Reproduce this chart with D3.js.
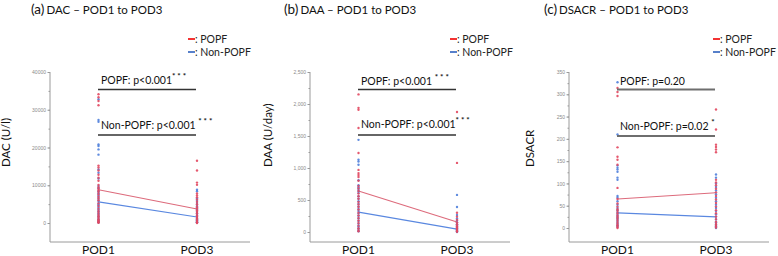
<!DOCTYPE html>
<html>
<head>
<meta charset="utf-8">
<script src="https://cdn.jsdelivr.net/npm/d3@7"></script>
<style>
  body { margin: 0; background: #fff; }
  svg { font-family: Lato, "Liberation Sans", sans-serif; }
  .tick text { fill: #8a8a8a; font-size: 5px; }
  .axis path, .axis line { stroke: #9a9a9a; }
</style>
</head>
<body>
<svg id="chart" width="778" height="256"></svg>
<script>
// categories
const days = ['POD1', 'POD3'];

// (a) DAC, U/l
const dacPopfPod1 = [34100, 33300, 32300, 31200, 15200, 14700, 13900, 12800, 12000, 11200, 10100, 9500, 9000, 8600, 8200, 7600, 7000, 6500, 6000, 5200, 4500, 3800, 3200, 2700, 2200, 1800, 1400, 1000, 700, 400, 200, 50];
const dacNonPod1 = [32800, 27300, 26800, 20800, 20400, 19500, 18100, 14200, 13300, 11800, 9800, 9200, 8400, 7900, 7300, 6700, 6100, 5600, 5000, 4600, 4100, 3600, 3100, 2600, 2100, 1700, 1300, 900, 600, 300, 100];
const dacPopfPod3 = [16500, 13900, 10700, 10100, 7800, 7300, 6800, 6200, 5600, 5000, 4400, 3900, 3400, 2900, 2500, 2000, 1600, 1200, 800, 500, 200, 0];
const dacNonPod3 = [8800, 8400, 6500, 5900, 5300, 4800, 4200, 3600, 3000, 2500, 2100, 1700, 1300, 1000, 700, 400, 200, 100];
const dacMeanPopf = [8800, 3700];
const dacMeanNon = [5600, 1600];
const dacTicks = [0, 10000, 20000, 30000, 40000];

// (b) DAA, U/day
const daaPopfPod1 = [2150, 1940, 1910, 1625, 1235, 970, 920, 890, 860, 800, 720, 680, 640, 600, 560, 520, 470, 430, 390, 350, 300, 260, 220, 180, 140, 100, 60, 30, 10];
const daaNonPod1 = [1440, 1130, 1100, 1050, 810, 730, 700, 670, 640, 610, 560, 520, 480, 440, 400, 360, 330, 290, 250, 210, 170, 130, 90, 60, 30, 10];
const daaPopfPod3 = [1875, 1080, 300, 240, 190, 150, 120, 90, 70, 50, 30, 15, 5];
const daaNonPod3 = [580, 390, 265, 210, 180, 150, 120, 100, 80, 60, 40, 25, 10, 0];
const daaMeanPopf = [640, 156];
const daaMeanNon = [310, 45];
const daaTicks = [0, 500, 1000, 1500, 2000, 2500];

// (c) DSACR
const dsacrPopfPod1 = [314, 305, 296, 181, 160, 153, 142, 90, 65, 55, 48, 42, 38, 33, 28, 24, 20, 16, 12, 8, 5, 2, 0];
const dsacrNonPod1 = [327, 210, 140, 135, 131, 126, 113, 108, 72, 68, 60, 52, 45, 40, 35, 30, 26, 22, 18, 14, 10, 6, 3];
const dsacrPopfPod3 = [266, 221, 187, 182, 176, 170, 108, 102, 96, 88, 80, 72, 64, 56, 48, 40, 33, 26, 20, 14, 9, 5, 1];
const dsacrNonPod3 = [120, 113, 100, 92, 84, 76, 68, 60, 52, 45, 38, 31, 25, 19, 13, 8, 4, 0];
const dsacrMeanPopf = [65, 79];
const dsacrMeanNon = [34, 25];
const dsacrTicks = [0, 50, 100, 150, 200, 250, 300, 350];

const RED = '#e2475f', BLUE = '#4f7fdc';
const svg = d3.select('#chart');

function drawPanel(p) {
    const g = svg.append('g');
    const axisX = p.axisX;

    const x = d3.scalePoint().domain(days).range([axisX + 48.5, axisX + 147]);
    const y = d3.scaleLinear().domain([0, d3.max(p.ticks)]).range([p.y0, 72]);

    // title
    const t = g.append('text').attr('x', p.titleX).attr('y', 14).attr('fill', '#111');
    t.append('tspan').attr('font-size', 13.5).text(p.letter);
    t.append('tspan').attr('font-size', 11.5).attr('dx', 2).text(p.title);

    // legend
    const leg = [{c: '#f21c1c', t: ': POPF'}, {c: '#4472c4', t: ': Non-POPF'}];
    leg.forEach((l, i) => {
        const ly = 39 + i * 13;
        g.append('line').attr('x1', p.legX).attr('x2', p.legX + 7)
            .attr('y1', ly).attr('y2', ly).attr('stroke', l.c).attr('stroke-width', 1.8);
        g.append('text').attr('x', p.legX + 7).attr('y', ly + 4)
            .attr('font-size', 10.5).attr('fill', '#222').text(l.t);
    });

    // y axis, minor ticks first
    const minor = d3.range(0, d3.max(p.ticks), p.ticks[1] / 2);
    g.append('g').attr('class', 'axis')
        .attr('transform', `translate(${axisX},0)`)
        .call(d3.axisLeft(y).tickValues(minor).tickSize(1.5).tickFormat(''))
        .call(a => a.select('.domain').remove());
    g.append('g').attr('class', 'axis')
        .attr('transform', `translate(${axisX},0)`)
        .call(d3.axisLeft(y).tickValues(p.ticks).tickSize(2.5).tickPadding(1.5).tickFormat(p.fmt))
        .call(a => a.select('.domain').remove());
    g.append('line').attr('x1', axisX).attr('x2', axisX).attr('y1', 72).attr('y2', 242)
        .attr('stroke', '#9a9a9a');
    g.append('line').attr('x1', axisX).attr('x2', axisX + 200).attr('y1', 242).attr('y2', 242)
        .attr('stroke', '#9a9a9a');

    // y title
    g.append('text')
        .attr('transform', `translate(${p.yTitleX},167) rotate(-90)`)
        .attr('font-size', 11.5).attr('fill', '#111').text(p.yTitle);

    // category labels
    days.forEach(d => {
        g.append('text').attr('x', x(d)).attr('y', 254).attr('text-anchor', 'middle')
            .attr('font-size', 12).attr('fill', '#111').text(d);
    });

    // mean lines
    const line = d3.line().x((d, i) => x(days[i])).y(d => y(d));
    g.append('path').datum(p.meanNon).attr('d', line).attr('fill', 'none')
        .attr('stroke', '#5a88e0').attr('stroke-width', 1.1);
    g.append('path').datum(p.meanPopf).attr('d', line).attr('fill', 'none')
        .attr('stroke', '#dd6b7c').attr('stroke-width', 1.1);

    // points
    const pts = [];
    p.non.forEach((arr, i) => arr.forEach(v => pts.push({day: days[i], v, c: BLUE})));
    p.popf.forEach((arr, i) => arr.forEach(v => pts.push({day: days[i], v, c: RED})));
    g.selectAll('.point').data(pts).join('circle')
        .attr('class', 'point')
        .attr('cx', d => x(d.day))
        .attr('cy', d => y(d.v))
        .attr('r', 1.2)
        .attr('fill', d => d.c)
        .attr('opacity', 0.9);

    // significance annotations
    p.notes.forEach(n => {
        g.append('line').attr('x1', axisX + 48).attr('x2', axisX + 146)
            .attr('y1', n.ly).attr('y2', n.ly)
            .attr('stroke', p.barColor).attr('stroke-width', p.barWidth);
        const tx = g.append('text').attr('x', axisX + 51).attr('y', n.ty)
            .attr('font-size', 10.5).attr('fill', '#111');
        tx.append('tspan').text(n.label);
        if (n.stars) {
            tx.append('tspan').attr('dy', -5).attr('font-size', 8)
                .attr('font-weight', 'bold').text(n.stars);
        }
    });
}

drawPanel({
    axisX: 50, y0: 223, titleX: 31, legX: 188, yTitleX: 9.5,
    letter: '(a)', title: 'DAC – POD1 to POD3', yTitle: 'DAC (U/l)',
    ticks: dacTicks, fmt: d3.format('d'),
    popf: [dacPopfPod1, dacPopfPod3], non: [dacNonPod1, dacNonPod3],
    meanPopf: dacMeanPopf, meanNon: dacMeanNon,
    barColor: '#333', barWidth: 1.3,
    notes: [
        {label: 'POPF: p<0.001', stars: '* * *', ty: 84, ly: 89.5},
        {label: 'Non-POPF: p<0.001 ', stars: '* * *', ty: 129, ly: 135}
    ]
});
drawPanel({
    axisX: 310, y0: 232, titleX: 284, legX: 450, yTitleX: 272,
    letter: '(b)', title: 'DAA – POD1 to POD3', yTitle: 'DAA (U/day)',
    ticks: daaTicks, fmt: d3.format(','),
    popf: [daaPopfPod1, daaPopfPod3], non: [daaNonPod1, daaNonPod3],
    meanPopf: daaMeanPopf, meanNon: daaMeanNon,
    barColor: '#333', barWidth: 1.3,
    notes: [
        {label: 'POPF: p<0.001 ', stars: '* * *', ty: 85, ly: 89.5},
        {label: 'Non-POPF: p<0.001', stars: '* * *', ty: 128, ly: 135}
    ]
});
drawPanel({
    axisX: 569, y0: 228, titleX: 544, legX: 713, yTitleX: 534,
    letter: '(c)', title: 'DSACR – POD1 to POD3', yTitle: 'DSACR',
    ticks: dsacrTicks, fmt: d3.format('d'),
    popf: [dsacrPopfPod1, dsacrPopfPod3], non: [dsacrNonPod1, dsacrNonPod3],
    meanPopf: dsacrMeanPopf, meanNon: dsacrMeanNon,
    barColor: '#6e6e6e', barWidth: 2.2,
    notes: [
        {label: 'POPF: p=0.20', stars: '', ty: 85, ly: 89.5},
        {label: 'Non-POPF: p=0.02 ', stars: '*', ty: 130, ly: 136}
    ]
});
</script>
</body>
</html>
